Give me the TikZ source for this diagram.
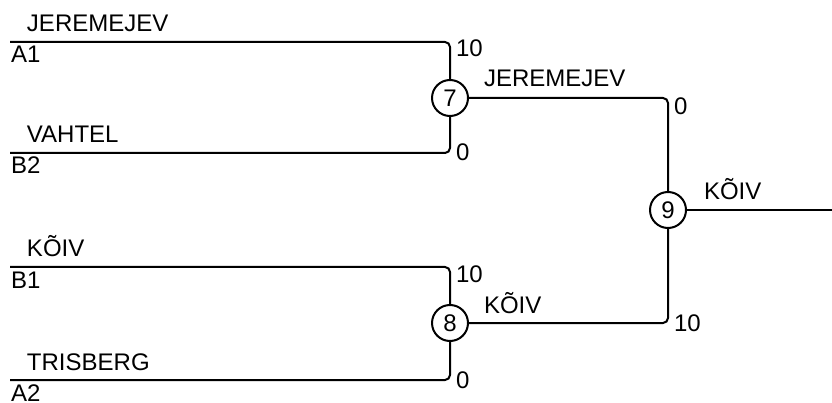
\documentclass[tikz,border=0pt]{standalone}
\usepackage{fontspec}
\setmainfont{Liberation Sans}
\begin{document}
\begin{tikzpicture}[x=1pt,y=-1pt,line width=2pt,
  match/.style={circle,draw,minimum size=36pt,inner sep=0pt,font=\fontsize{24}{28}\selectfont},
  lbl/.style={anchor=base west,inner sep=0pt,font=\fontsize{24}{28}\selectfont},
  conn/.style={rounded corners=5pt}]
\useasboundingbox (0,0) rectangle (832,403);
% matches
\node[match] (m7) at (450,98) {7};
\node[match] (m8) at (450,323) {8};
\node[match] (m9) at (668,210) {9};
% entry lines
\coordinate (a1) at (10,42);
\coordinate (b2) at (10,153);
\coordinate (b1) at (10,267);
\coordinate (a2) at (10,380);
\coordinate (out) at (832,210);
\draw[conn] (a1) -| (m7);
\draw[conn] (b2) -| (m7);
\draw[conn] (b1) -| (m8);
\draw[conn] (a2) -| (m8);
\draw[conn] (m7) -| (m9);
\draw[conn] (m8) -| (m9);
\draw (m9) -- (out);
% names
\node[lbl] (n1) at (26,31.5) {JEREMEJEV};
\node[lbl] (s1) at (10,63) {A1};
\node[lbl] (n2) at (26,143) {VAHTEL};
\node[lbl] (s2) at (10,174) {B2};
\node[lbl] (n3) at (26,257) {KÕIV};
\node[lbl] (s3) at (10,288) {B1};
\node[lbl] (n4) at (26,370) {TRISBERG};
\node[lbl] (s4) at (10,401) {A2};
\node[lbl] (w7) at (483,87) {JEREMEJEV};
\node[lbl] (w8) at (483,313) {KÕIV};
\node[lbl] (w9) at (703,200) {KÕIV};
% scores
\node[lbl] (p1) at (455,57) {10};
\node[lbl] (p2) at (455,161) {0};
\node[lbl] (p3) at (455,283) {10};
\node[lbl] (p4) at (455,388) {0};
\node[lbl] (p5) at (673,115) {0};
\node[lbl] (p6) at (673,331) {10};
\end{tikzpicture}
\end{document}
